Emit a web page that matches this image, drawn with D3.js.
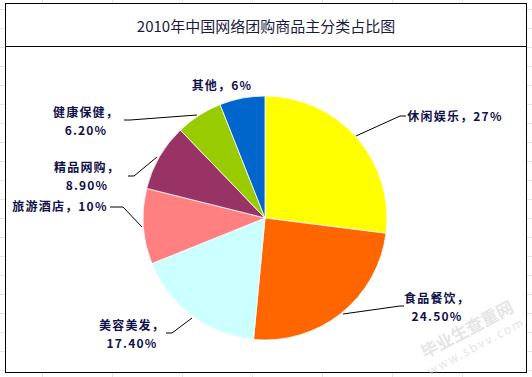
<!DOCTYPE html>
<html lang="zh">
<head>
    <meta charset="UTF-8">
    <title>2010年中国网络团购商品主分类占比图</title>
    <script src="https://d3js.org/d3.v7.min.js"></script>
    <style>
        body { margin: 0; background: #fff; }
        .label {
            font-family: "Noto Sans CJK SC", sans-serif;
            font-size: 12px;
            font-weight: bold;
            letter-spacing: 1.2px;
            fill: #10104a;
        }
        .title {
            font-family: "Noto Sans CJK SC", sans-serif;
            font-size: 15px;
            fill: #1a1a40;
        }
    </style>
</head>
<body>
<script>
    const categories = ["休闲娱乐", "食品餐饮", "美容美发", "旅游酒店", "精品网购", "健康保健", "其他"];
    const values = [27, 24.5, 17.4, 10, 8.9, 6.2, 6];
    const valueLabels = ["27%", "24.50%", "17.40%", "10%", "8.90%", "6.20%", "6%"];
    const colors = ["#FFFF00", "#FF6600", "#CCFFFF", "#FF8080", "#993366", "#99CC00", "#0066CC"];

    const width = 532, height = 377;
    const cx = 265, cy = 218, r = 122;

    const svg = d3.select("body").append("svg")
        .attr("width", width)
        .attr("height", height);

    // faint worksheet grid behind the chart
    const grid = svg.append("g").attr("stroke", "#e4e4e4").attr("stroke-width", 1);
    d3.range(9, 377, 19).forEach(y => {
        grid.append("line").attr("x1", 0).attr("x2", 5).attr("y1", y + 0.5).attr("y2", y + 0.5);
        grid.append("line").attr("x1", 527).attr("x2", 532).attr("y1", y + 0.5).attr("y2", y + 0.5);
    });
    [42, 112, 182, 252, 322, 392, 462].forEach(x => {
        grid.append("line").attr("x1", x + 0.5).attr("x2", x + 0.5).attr("y1", 0).attr("y2", 3);
        grid.append("line").attr("x1", x + 0.5).attr("x2", x + 0.5).attr("y1", 373).attr("y2", 377);
    });

    // chart frame
    svg.append("rect")
        .attr("x", 5.5).attr("y", 3.5)
        .attr("width", 521).attr("height", 369)
        .attr("fill", "#fff")
        .attr("stroke", "#000")
        .attr("stroke-width", 1);
    svg.append("line")
        .attr("x1", 5.5).attr("x2", 526.5)
        .attr("y1", 46.5).attr("y2", 46.5)
        .attr("stroke", "#000");

    svg.append("text")
        .attr("class", "title")
        .attr("x", 266).attr("y", 32)
        .attr("text-anchor", "middle")
        .text("2010年中国网络团购商品主分类占比图");

    // pie
    const pie = d3.pie().sort(null).value(d => d);
    const arc = d3.arc().innerRadius(0).outerRadius(r);
    const arcs = pie(values);

    const g = svg.append("g").attr("transform", `translate(${cx},${cy})`);
    g.selectAll("path")
        .data(arcs)
        .enter().append("path")
        .attr("d", arc)
        .attr("fill", (d, i) => colors[i])
        .attr("stroke", "#fff")
        .attr("stroke-width", 0.8);

    // label placement (text lines, leader line points)
    const labels = [
        {lines: [categories[0] + "，" + valueLabels[0]], x: 455, y: 121, pts: [[356, 136], [400, 116], [406, 116]]},
        {lines: [categories[1] + "，", valueLabels[1]], x: 437, y: 303, pts: [[343, 314], [400, 306], [404, 306]]},
        {lines: [categories[2] + "，", valueLabels[2]], x: 132, y: 330, pts: [[192, 318], [172, 333], [166, 333]]},
        {lines: [categories[3] + "，" + valueLabels[3]], x: 60, y: 211, pts: [[142, 227], [123, 207], [110, 207]]},
        {lines: [categories[4] + "，", valueLabels[4]], x: 87, y: 172, pts: [[157, 157], [134, 176], [128, 176]]},
        {lines: [categories[5] + "，", valueLabels[5]], x: 86, y: 117, pts: [[197, 115], [130, 120], [124, 120]]},
        {lines: [categories[6] + "，" + valueLabels[6]], x: 222, y: 90, pts: null}
    ];

    labels.forEach(l => {
        if (l.pts) {
            svg.append("path")
                .attr("d", d3.line()(l.pts))
                .attr("fill", "none")
                .attr("stroke", "#000")
                .attr("stroke-width", 1);
        }
        l.lines.forEach((s, i) => {
            svg.append("text")
                .attr("class", "label")
                .attr("text-anchor", "middle")
                .attr("x", l.x)
                .attr("y", l.y + i * 17.5)
                .text(s);
        });
    });

    // watermark
    const wm = svg.append("g").attr("transform", "translate(470,335) rotate(-28)")
        .attr("fill", "#d4d4d4").attr("opacity", 0.6)
        .style("font-family", "Noto Sans CJK SC, sans-serif");
    wm.append("text").attr("text-anchor", "middle").attr("y", 0)
        .style("font-size", "17px").style("font-weight", "bold").text("毕业生查重网");
    wm.append("text").attr("text-anchor", "middle").attr("y", 17)
        .style("font-size", "12px").attr("letter-spacing", 2).text("www.sbvv.com");
</script>
</body>
</html>
